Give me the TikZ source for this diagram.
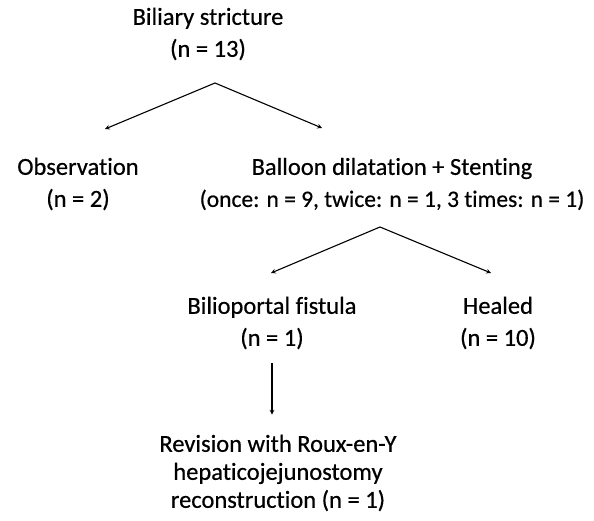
\documentclass[tikz,border=0pt]{standalone}
\usepackage{fontspec}
\setmainfont{Carlito}[Ligatures=NoCommon]
\newfontfamily\scanfont{Carlito}[Ligatures=NoCommon, FakeBold=0.5]
\usepackage{tikz}
\usetikzlibrary{arrows}
\usetikzlibrary{positioning}
\tikzstyle{txt} = [align=center, inner sep=0pt, font=\scanfont\fontsize{24.5}{32}\selectfont]
\tikzstyle{arrow} = [line width=1.1pt,->,>=stealth]

\begin{document}
\begin{tikzpicture}[x=1pt, y=-1pt]
    \useasboundingbox (0,0) rectangle (594,521);
    \node(top)[txt] at (208,34) {Biliary stricture\\(n = 13)};
    \node(obs)[txt] at (78,184) {Observation\\(n = 2)};
    \node(bal)[txt] at (392,184) {Balloon dilatation + Stenting\\{\fontsize{23.5}{32}\selectfont (once: n = 9, twice: n = 1, 3 times: n = 1)}};
    \node(fis)[txt] at (272,323) {Bilioportal fistula\\(n = 1)};
    \node(heal)[txt] at (498,323) {Healed\\(n = 10)};
    \node(rev)[txt, font=\scanfont\fontsize{24.5}{28}\selectfont] at (278,473) {Revision with Roux-en-Y\\hepaticojejunostomy\\reconstruction (n = 1)};
    %
    \coordinate(fork1) at (215,83);
    \coordinate(obs-in) at (105,129);
    \coordinate(bal-in) at (322,128);
    \coordinate(fork2) at (380,227);
    \coordinate(fis-in) at (271,273);
    \coordinate(heal-in) at (491,273);
    \draw [arrow, <->] (obs-in) -- (fork1) -- (bal-in);
    \draw [arrow, <->] (fis-in) -- (fork2) -- (heal-in);
    \draw [arrow, shorten <=14pt, shorten >=20pt] (fis.south) -- (fis.south |- rev.north);
\end{tikzpicture}
\end{document}
